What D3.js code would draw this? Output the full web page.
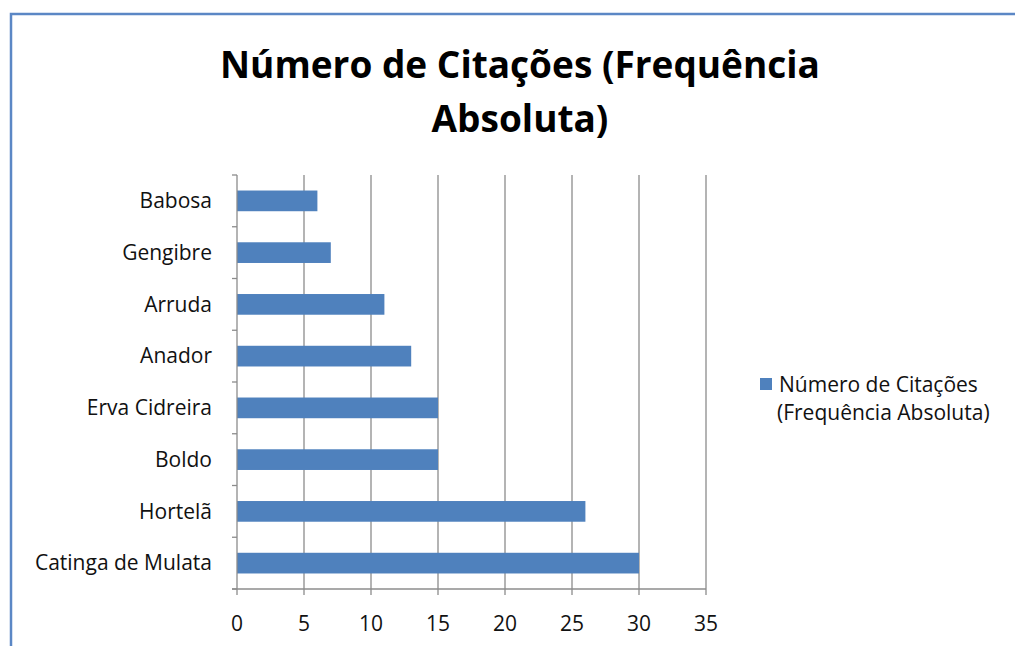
<!DOCTYPE html>
<html>
<head>
<meta charset="utf-8">
<script src="https://cdn.jsdelivr.net/npm/d3@7"></script>
<style>
  body { margin: 0; background: #fff; }
  svg { display: block; font-family: "Open Sans", "Noto Sans", sans-serif; }
</style>
</head>
<body>
<svg width="1015" height="646"></svg>
<script>
var categories = ["Babosa", "Gengibre", "Arruda", "Anador", "Erva Cidreira", "Boldo", "Hortelã", "Catinga de Mulata"];
var values = [6, 7, 11, 13, 15, 15, 26, 30];
var xTicks = [0, 5, 10, 15, 20, 25, 30, 35];
var titleLines = ["Número de Citações (Frequência", "Absoluta)"];
var legendLines = ["Número de Citações", "(Frequência Absoluta)"];

var svg = d3.select("svg"),
  width = +svg.attr("width"),
  height = +svg.attr("height");

var barColor = "#4f81bd";
var gridColor = "#8c8c8c";
var textColor = "#111";

// chart area border (left and top edges visible)
svg.append("path")
  .attr("d", "M11," + height + "V14H" + width)
  .attr("fill", "none")
  .attr("stroke", "#5b87c5")
  .attr("stroke-width", 2.5);

var x = d3.scaleLinear().domain([0, 35]).range([237, 706]);
var y = d3.scaleBand().domain(categories).range([175, 589]).paddingInner(0.6).paddingOuter(0.3);

// gridlines
svg.append("g")
  .selectAll("line")
  .data(xTicks.slice(1))
  .enter()
  .append("line")
  .attr("x1", function (d) { return x(d); })
  .attr("x2", function (d) { return x(d); })
  .attr("y1", 175)
  .attr("y2", 589)
  .attr("stroke", gridColor)
  .attr("stroke-width", 1.3);

// bars
svg.append("g")
  .selectAll("rect")
  .data(values)
  .enter()
  .append("rect")
  .attr("x", x(0))
  .attr("y", function (d, i) { return y(categories[i]); })
  .attr("width", function (d) { return x(d) - x(0); })
  .attr("height", y.bandwidth())
  .attr("fill", barColor);

// y axis line + ticks at band boundaries
var yAxis = svg.append("g");
yAxis.append("line")
  .attr("x1", x(0)).attr("x2", x(0))
  .attr("y1", 175).attr("y2", 589)
  .attr("stroke", gridColor).attr("stroke-width", 1.3);
yAxis.selectAll("line.tk")
  .data(d3.range(categories.length + 1))
  .enter()
  .append("line")
  .attr("class", "tk")
  .attr("x1", x(0) - 5).attr("x2", x(0))
  .attr("y1", function (i) { return 175 + i * (414 / categories.length); })
  .attr("y2", function (i) { return 175 + i * (414 / categories.length); })
  .attr("stroke", gridColor).attr("stroke-width", 1.3);
yAxis.selectAll("text")
  .data(categories)
  .enter()
  .append("text")
  .attr("x", 212)
  .attr("y", function (d) { return y(d) + y.bandwidth() / 2; })
  .attr("dy", "0.35em")
  .attr("text-anchor", "end")
  .attr("font-size", 21)
  .attr("fill", textColor)
  .text(function (d) { return d; });

// x axis
var xAxis = svg.append("g");
xAxis.append("line")
  .attr("x1", x(0) - 5).attr("x2", x(35))
  .attr("y1", 589).attr("y2", 589)
  .attr("stroke", gridColor).attr("stroke-width", 1.3);
xAxis.selectAll("line.tk")
  .data(xTicks)
  .enter()
  .append("line")
  .attr("class", "tk")
  .attr("x1", function (d) { return x(d); })
  .attr("x2", function (d) { return x(d); })
  .attr("y1", 589).attr("y2", 595)
  .attr("stroke", gridColor).attr("stroke-width", 1.3);
xAxis.selectAll("text")
  .data(xTicks)
  .enter()
  .append("text")
  .attr("x", function (d) { return x(d); })
  .attr("y", 631)
  .attr("text-anchor", "middle")
  .attr("font-size", 21)
  .attr("fill", textColor)
  .text(function (d) { return d; });

// title
svg.append("g")
  .selectAll("text")
  .data(titleLines)
  .enter()
  .append("text")
  .attr("x", 520)
  .attr("y", function (d, i) { return 78 + i * 54; })
  .attr("text-anchor", "middle")
  .attr("font-size", 37)
  .attr("font-weight", "bold")
  .attr("fill", "#000")
  .text(function (d) { return d; });

// legend
svg.append("rect")
  .attr("x", 760).attr("y", 378)
  .attr("width", 12).attr("height", 12)
  .attr("fill", barColor);
svg.append("g")
  .selectAll("text")
  .data(legendLines)
  .enter()
  .append("text")
  .attr("x", function (d, i) { return i === 0 ? 779 : 777; })
  .attr("y", function (d, i) { return 392 + i * 28; })
  .attr("font-size", 21)
  .attr("fill", textColor)
  .text(function (d) { return d; });
</script>
</body>
</html>
